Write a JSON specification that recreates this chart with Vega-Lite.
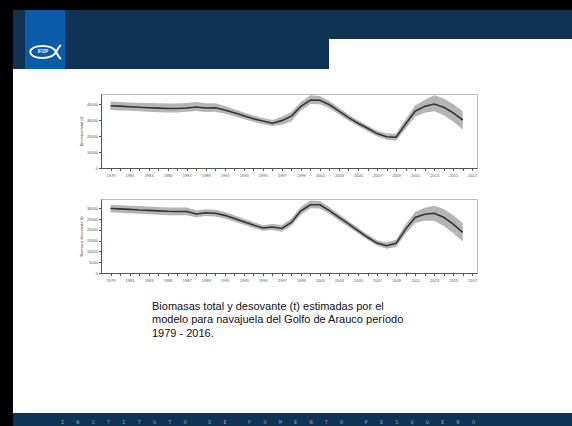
{
  "$schema": "https://vega.github.io/schema/vega-lite/v6.json",
  "background": "white",
  "padding": 0,
  "spacing": 0,
  "config": {"view": {"stroke": null}, "font": "Liberation Sans"},
  "datasets": {
    "total": [
      {"year": 1979, "bio": 38900, "lo": 36200, "hi": 41500},
      {"year": 1980, "bio": 38700, "lo": 36000, "hi": 41300},
      {"year": 1981, "bio": 38300, "lo": 35800, "hi": 41000},
      {"year": 1982, "bio": 38000, "lo": 35500, "hi": 40800},
      {"year": 1983, "bio": 37700, "lo": 35200, "hi": 40600},
      {"year": 1984, "bio": 37400, "lo": 34900, "hi": 40400},
      {"year": 1985, "bio": 37200, "lo": 34700, "hi": 40300},
      {"year": 1986, "bio": 37200, "lo": 34700, "hi": 40300},
      {"year": 1987, "bio": 37500, "lo": 35100, "hi": 40700},
      {"year": 1988, "bio": 38100, "lo": 35600, "hi": 41300},
      {"year": 1989, "bio": 37500, "lo": 35000, "hi": 40400},
      {"year": 1990, "bio": 37700, "lo": 35200, "hi": 40500},
      {"year": 1991, "bio": 36300, "lo": 34000, "hi": 38700},
      {"year": 1992, "bio": 34500, "lo": 32400, "hi": 36700},
      {"year": 1993, "bio": 32600, "lo": 30600, "hi": 34700},
      {"year": 1994, "bio": 30800, "lo": 28900, "hi": 32800},
      {"year": 1995, "bio": 29400, "lo": 27500, "hi": 31300},
      {"year": 1996, "bio": 28000, "lo": 26200, "hi": 30000},
      {"year": 1997, "bio": 29600, "lo": 27000, "hi": 32000},
      {"year": 1998, "bio": 32400, "lo": 29000, "hi": 35000},
      {"year": 1999, "bio": 38500, "lo": 36000, "hi": 41200},
      {"year": 2000, "bio": 42500, "lo": 40000, "hi": 45500},
      {"year": 2001, "bio": 42300, "lo": 39900, "hi": 45000},
      {"year": 2002, "bio": 39500, "lo": 37300, "hi": 41800},
      {"year": 2003, "bio": 35500, "lo": 33400, "hi": 37600},
      {"year": 2004, "bio": 31500, "lo": 29600, "hi": 33400},
      {"year": 2005, "bio": 28000, "lo": 26200, "hi": 29900},
      {"year": 2006, "bio": 24800, "lo": 23000, "hi": 26600},
      {"year": 2007, "bio": 21500, "lo": 19800, "hi": 23300},
      {"year": 2008, "bio": 19500, "lo": 17600, "hi": 21500},
      {"year": 2009, "bio": 19200, "lo": 17000, "hi": 21600},
      {"year": 2010, "bio": 27500, "lo": 24500, "hi": 30500},
      {"year": 2011, "bio": 35500, "lo": 32000, "hi": 39000},
      {"year": 2012, "bio": 38500, "lo": 34500, "hi": 42500},
      {"year": 2013, "bio": 40000, "lo": 35500, "hi": 45500},
      {"year": 2014, "bio": 38000, "lo": 33000, "hi": 43500},
      {"year": 2015, "bio": 34500, "lo": 29000, "hi": 40000},
      {"year": 2016, "bio": 30000, "lo": 24000, "hi": 35500}
    ],
    "desov": [
      {"year": 1979, "bio": 30000, "lo": 28200, "hi": 31700},
      {"year": 1980, "bio": 29800, "lo": 28000, "hi": 31500},
      {"year": 1981, "bio": 29600, "lo": 27800, "hi": 31300},
      {"year": 1982, "bio": 29300, "lo": 27500, "hi": 31100},
      {"year": 1983, "bio": 29100, "lo": 27300, "hi": 30900},
      {"year": 1984, "bio": 28900, "lo": 27100, "hi": 30700},
      {"year": 1985, "bio": 28700, "lo": 26900, "hi": 30500},
      {"year": 1986, "bio": 28600, "lo": 26800, "hi": 30400},
      {"year": 1987, "bio": 28600, "lo": 26900, "hi": 30400},
      {"year": 1988, "bio": 27400, "lo": 25900, "hi": 29100},
      {"year": 1989, "bio": 28000, "lo": 26500, "hi": 29600},
      {"year": 1990, "bio": 27800, "lo": 26300, "hi": 29400},
      {"year": 1991, "bio": 26800, "lo": 25300, "hi": 28300},
      {"year": 1992, "bio": 25300, "lo": 23900, "hi": 26800},
      {"year": 1993, "bio": 23800, "lo": 22400, "hi": 25200},
      {"year": 1994, "bio": 22300, "lo": 21000, "hi": 23700},
      {"year": 1995, "bio": 20900, "lo": 19600, "hi": 22200},
      {"year": 1996, "bio": 21400, "lo": 20000, "hi": 22800},
      {"year": 1997, "bio": 20700, "lo": 19200, "hi": 22300},
      {"year": 1998, "bio": 23500, "lo": 21800, "hi": 25300},
      {"year": 1999, "bio": 28900, "lo": 27100, "hi": 30800},
      {"year": 2000, "bio": 31700, "lo": 30100, "hi": 33700},
      {"year": 2001, "bio": 31700, "lo": 30000, "hi": 33500},
      {"year": 2002, "bio": 29000, "lo": 27400, "hi": 30600},
      {"year": 2003, "bio": 25900, "lo": 24400, "hi": 27400},
      {"year": 2004, "bio": 22800, "lo": 21400, "hi": 24200},
      {"year": 2005, "bio": 19700, "lo": 18400, "hi": 21000},
      {"year": 2006, "bio": 16600, "lo": 15400, "hi": 17900},
      {"year": 2007, "bio": 13900, "lo": 12700, "hi": 15200},
      {"year": 2008, "bio": 12700, "lo": 11300, "hi": 14200},
      {"year": 2009, "bio": 13800, "lo": 12100, "hi": 15500},
      {"year": 2010, "bio": 20400, "lo": 18200, "hi": 22600},
      {"year": 2011, "bio": 25800, "lo": 23200, "hi": 28400},
      {"year": 2012, "bio": 27300, "lo": 24300, "hi": 30300},
      {"year": 2013, "bio": 27800, "lo": 24300, "hi": 31300},
      {"year": 2014, "bio": 25900, "lo": 22000, "hi": 29700},
      {"year": 2015, "bio": 22700, "lo": 18500, "hi": 26900},
      {"year": 2016, "bio": 18900, "lo": 14600, "hi": 23200}
    ]
  },
  "vconcat": [
    {"width": 572, "height": 10, "view": {"fill": "#000000", "stroke": null}, "data": {"values": [{}]}, "mark": {"type": "rect", "opacity": 0}},
    {
      "spacing": 0,
      "hconcat": [
        {"width": 13, "height": 59, "view": {"fill": "#000000", "stroke": null}, "data": {"values": [{}]}, "mark": {"type": "rect", "opacity": 0}},
        {"width": 12, "height": 59, "view": {"fill": "#0e3354", "stroke": null}, "data": {"values": [{}]}, "mark": {"type": "rect", "opacity": 0}},
        {
          "width": 40, "height": 59, "view": {"fill": "#0a5ca8", "stroke": null},
          "data": {"values": [{}]},
          "layer": [
            {"mark": {"type": "point", "shape": "M-0.95,0 C-0.8,-0.5 0.45,-0.5 0.7,0 C0.45,0.5 -0.8,0.5 -0.95,0 M0.7,0 C0.8,-0.2 0.9,-0.35 1,-0.45 M0.7,0 C0.8,0.2 0.9,0.35 1,0.45", "filled": false, "stroke": "white", "strokeWidth": 2, "size": 1000, "yOffset": 12.5, "opacity": 1}},
            {"mark": {"type": "text", "text": "IFOP", "color": "white", "fontSize": 4.5, "fontWeight": "bold", "dx": -2, "dy": 12.5}}
          ]
        },
        {"width": 264, "height": 59, "view": {"fill": "#0e3354", "stroke": null}, "data": {"values": [{}]}, "mark": {"type": "rect", "opacity": 0}},
        {
          "spacing": 0,
          "vconcat": [
            {"width": 243, "height": 29, "view": {"fill": "#0e3354", "stroke": null}, "data": {"values": [{}]}, "mark": {"type": "rect", "opacity": 0}},
            {"width": 243, "height": 30, "view": {"fill": "#ffffff", "stroke": null}, "data": {"values": [{}]}, "mark": {"type": "rect", "opacity": 0}}
          ]
        }
      ]
    },
    {
      "spacing": 65,
      "hconcat": [
        {"width": 13, "height": 344, "view": {"fill": "#000000", "stroke": null}, "data": {"values": [{}]}, "mark": {"type": "rect", "opacity": 0}},
        {
          "spacing": 20,
          "vconcat": [
            {"width": 1, "height": 3.5, "data": {"values": [{}]}, "mark": {"type": "rect", "opacity": 0}},
            {
              "width": 376, "height": 74,
              "view": {"stroke": "#bdbdbd", "strokeWidth": 1},
              "data": {"name": "total"},
              "encoding": {
                "x": {"field": "year", "type": "quantitative", "scale": {"domain": [1978, 2017.5], "nice": false, "zero": false},
                  "axis": {"values": [1979,1980,1981,1982,1983,1984,1985,1986,1987,1988,1989,1990,1991,1992,1993,1994,1995,1996,1997,1998,1999,2000,2001,2002,2003,2004,2005,2006,2007,2008,2009,2010,2011,2012,2013,2014,2015,2016,2017],
                    "labelExpr": "datum.value % 2 == 1 ? datum.label : ''", "format": "d", "title": null, "grid": false,
                    "labelFontSize": 4, "labelColor": "#555", "labelAngle": 0, "labelOverlap": false, "labelFlush": false,
                    "tickSize": 2.5, "tickColor": "#555", "domainColor": "#555", "labelPadding": 3}}
              },
              "layer": [
                {"mark": {"type": "area", "color": "#b5b5b5"},
                 "encoding": {
                   "y": {"field": "lo", "type": "quantitative", "title": "Biomasa total (t)", "scale": {"domain": [0, 46250], "nice": false},
                     "axis": {"values": [0, 10000, 20000, 30000, 40000], "format": "d", "grid": false, "labelOverlap": false, "labelFontSize": 4, "labelColor": "#555", "tickSize": 2.5, "tickColor": "#555", "domainColor": "#555", "labelPadding": 1, "titleFontSize": 4, "titleFontWeight": "normal", "titleColor": "#444", "titlePadding": 3}},
                   "y2": {"field": "hi"}
                 }},
                {"mark": {"type": "line", "color": "#333333", "strokeWidth": 1.6},
                 "encoding": {"y": {"field": "bio", "type": "quantitative", "title": "Biomasa total (t)",
                     "axis": {"values": [0, 10000, 20000, 30000, 40000], "format": "d", "grid": false, "labelOverlap": false, "labelFontSize": 4, "labelColor": "#555", "tickSize": 2.5, "tickColor": "#555", "domainColor": "#555", "labelPadding": 1, "titleFontSize": 4, "titleFontWeight": "normal", "titleColor": "#444", "titlePadding": 3}}}}
              ]
            },
            {
              "width": 376, "height": 74,
              "view": {"stroke": "#bdbdbd", "strokeWidth": 1},
              "title": {"text": ["Biomasas total y desovante (t) estimadas por el", "modelo para navajuela del Golfo de Arauco período", "1979 - 2016."],
                "orient": "bottom", "anchor": "start", "frame": "group", "dx": 51, "offset": 18, "fontSize": 11, "fontWeight": "normal", "color": "#111111", "lineHeight": 13.5, "baseline": "top", "font": "Liberation Sans"},
              "data": {"name": "desov"},
              "encoding": {
                "x": {"field": "year", "type": "quantitative", "scale": {"domain": [1978, 2017.5], "nice": false, "zero": false},
                  "axis": {"values": [1979,1980,1981,1982,1983,1984,1985,1986,1987,1988,1989,1990,1991,1992,1993,1994,1995,1996,1997,1998,1999,2000,2001,2002,2003,2004,2005,2006,2007,2008,2009,2010,2011,2012,2013,2014,2015,2016,2017],
                    "labelExpr": "datum.value % 2 == 1 ? datum.label : ''", "format": "d", "title": null, "grid": false,
                    "labelFontSize": 4, "labelColor": "#555", "labelAngle": 0, "labelOverlap": false, "labelFlush": false,
                    "tickSize": 2.5, "tickColor": "#555", "domainColor": "#555", "labelPadding": 3}}
              },
              "layer": [
                {"mark": {"type": "area", "color": "#b5b5b5"},
                 "encoding": {
                   "y": {"field": "lo", "type": "quantitative", "title": "Biomasa desovante (t)", "scale": {"domain": [0, 34400], "nice": false},
                     "axis": {"values": [0, 5000, 10000, 15000, 20000, 25000, 30000], "format": "d", "grid": false, "labelOverlap": false, "labelFontSize": 4, "labelColor": "#555", "tickSize": 2.5, "tickColor": "#555", "domainColor": "#555", "labelPadding": 1, "titleFontSize": 4, "titleFontWeight": "normal", "titleColor": "#444", "titlePadding": 3}},
                   "y2": {"field": "hi"}
                 }},
                {"mark": {"type": "line", "color": "#333333", "strokeWidth": 1.6},
                 "encoding": {"y": {"field": "bio", "type": "quantitative", "title": "Biomasa desovante (t)",
                     "axis": {"values": [0, 5000, 10000, 15000, 20000, 25000, 30000], "format": "d", "grid": false, "labelOverlap": false, "labelFontSize": 4, "labelColor": "#555", "tickSize": 2.5, "tickColor": "#555", "domainColor": "#555", "labelPadding": 1, "titleFontSize": 4, "titleFontWeight": "normal", "titleColor": "#444", "titlePadding": 3}}}}
              ]
            }
          ]
        }
      ]
    },
    {
      "spacing": 0,
      "hconcat": [
        {"width": 13, "height": 13, "view": {"fill": "#000000", "stroke": null}, "data": {"values": [{}]}, "mark": {"type": "rect", "opacity": 0}},
        {"width": 559, "height": 13, "view": {"fill": "#0e3354", "stroke": null}, "data": {"values": [{}]},
         "mark": {"type": "text", "text": "I\u00a0\u00a0\u00a0\u00a0N\u00a0\u00a0\u00a0\u00a0S\u00a0\u00a0\u00a0\u00a0T\u00a0\u00a0\u00a0\u00a0I\u00a0\u00a0\u00a0\u00a0T\u00a0\u00a0\u00a0\u00a0U\u00a0\u00a0\u00a0\u00a0T\u00a0\u00a0\u00a0\u00a0O\u00a0\u00a0\u00a0\u00a0\u00a0\u00a0\u00a0D\u00a0\u00a0\u00a0\u00a0E\u00a0\u00a0\u00a0\u00a0\u00a0\u00a0\u00a0F\u00a0\u00a0\u00a0\u00a0O\u00a0\u00a0\u00a0\u00a0M\u00a0\u00a0\u00a0\u00a0E\u00a0\u00a0\u00a0\u00a0N\u00a0\u00a0\u00a0\u00a0T\u00a0\u00a0\u00a0\u00a0O\u00a0\u00a0\u00a0\u00a0\u00a0\u00a0\u00a0P\u00a0\u00a0\u00a0\u00a0E\u00a0\u00a0\u00a0\u00a0S\u00a0\u00a0\u00a0\u00a0Q\u00a0\u00a0\u00a0\u00a0U\u00a0\u00a0\u00a0\u00a0E\u00a0\u00a0\u00a0\u00a0R\u00a0\u00a0\u00a0\u00a0O",
           "font": "DejaVu Sans Mono", "fontSize": 5.1, "color": "#9aa8bb", "dx": -24.5, "dy": 2.5, "baseline": "middle"}}
      ]
    }
  ]
}
